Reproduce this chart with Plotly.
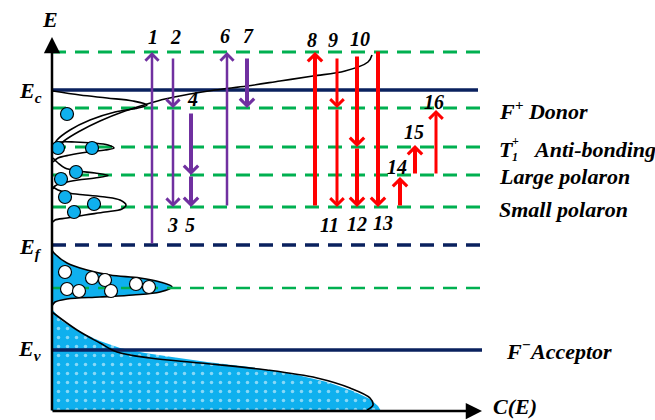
import plotly.graph_objects as go

# ---------------- data (diagram units: x to the right, y = energy drawn downward) ----------------
axis_origin = (52, 411)
e_axis_top = 37
c_axis_end = 482

level_y    = [52, 90, 108, 147, 175, 207, 245, 288, 350]
level_kind = ["green", "navy", "green", "green", "green", "green", "navydash", "green2", "navy"]
level_end  = [482, 478, 482, 482, 482, 482, 485, 485, 482]

# transitions
arrow_x     = [152, 173, 173, 191, 191, 227, 247, 315, 337, 337, 357, 357, 378, 400, 415, 436]
arrow_from  = [245, 57, 108, 112, 175, 207, 57, 207, 57, 108, 55, 147, 50, 207, 175, 175]
arrow_to    = [52, 108, 207, 175, 207, 52, 108, 52, 108, 207, 147, 207, 207, 177, 145, 110]
arrow_group = ["p"] * 7 + ["r"] * 9
arrow_w     = [2.5, 2.5, 2.5, 4, 4, 2.5, 4, 4, 3, 3, 4, 4, 4, 4, 4, 3]

num_text = ["1", "2", "3", "4", "5", "6", "7", "8", "9", "10", "11", "12", "13", "14", "15", "16"]
num_x    = [153, 175, 172, 192, 190, 225, 248, 312, 333, 360, 329, 357, 383, 397, 414, 434]
num_y    = [37, 37, 225, 99, 225, 36, 36, 40, 40, 39, 225, 224, 223, 167, 132, 102]

# density of states curves
donor_x = [53, 80, 107, 133, 147, 138, 115, 90, 70, 57, 53]
donor_y = [91, 95, 98, 101, 105, 108, 112, 120, 130, 140, 147]
tail_x = [372, 368, 345, 313, 280, 247, 215, 190, 165, 147, 125, 100, 80, 64, 55]
tail_y = [55, 62, 71, 76, 81, 86, 90, 94, 99, 104, 111, 121, 131, 141, 150]
t1_x = [53, 60, 75, 93, 108, 114, 105, 88, 70, 58, 53]
t1_y = [144, 142, 142, 143, 145, 148, 150, 152, 155, 158, 162]
large_x = [53, 58, 65, 78, 95, 108, 95, 78, 63, 55, 53]
large_y = [158, 163, 168, 171, 173, 175.5, 178, 180, 183, 186, 189]
small_x = [53, 58, 68, 85, 105, 120, 126, 122, 105, 85, 67, 55, 53]
small_y = [187, 190, 193, 195, 197, 200, 205, 209, 212, 215, 218, 220, 222]

acc_x = [52, 54, 67, 87, 110, 140, 160, 172, 160, 133, 100, 67, 55, 52]
acc_y = [250, 253, 263, 270, 275, 278, 282, 287, 292, 295, 297, 299, 302, 306]

vb_fill_x = [52, 62, 80, 100, 120, 145, 172, 207, 250, 293, 327, 353, 370, 378, 381, 52]
vb_fill_y = [309, 321, 332, 341, 348, 353, 357, 362, 367, 374, 382, 391, 399, 406, 411, 411]
vb_line_x = [52, 77, 100, 117, 150, 200, 267, 317, 350, 370, 373, 367]
vb_line_y = [312, 330, 343, 352, 358, 363, 370, 378, 388, 398, 405, 410]

electron_x = [67, 58, 92, 76, 61, 65, 94, 74]
electron_y = [114, 148, 148, 172, 179, 197, 204, 212]
hole_x = [65, 92, 105, 136, 149, 67, 79, 111]
hole_y = [272, 278, 280, 284, 287, 289, 291, 291]

# ---------------- styles ----------------
BLUE = "#0FB0EE"
PURPLE = "#7030A0"
RED = "#FF0000"
GREEN = "#00B050"
NAVY = "#0A215E"
FONT = "Liberation Serif, Times New Roman, Times, serif"
level_style = {
    "green": dict(color=GREEN, width=3, dash="14px,9px"),
    "green2": dict(color=GREEN, width=2.6, dash="14px,9px"),
    "navy": dict(color=NAVY, width=3.5),
    "navydash": dict(color=NAVY, width=3.5, dash="14px,9px"),
}
arrow_color = {"p": PURPLE, "r": RED}

fig = go.Figure()

# valence band (dotted fill)
fig.add_trace(go.Scatter(
    x=vb_fill_x, y=vb_fill_y, mode="lines", fill="toself",
    line=dict(width=0, color=BLUE), fillcolor=BLUE,
    fillpattern=dict(shape=".", fgcolor="white", bgcolor=BLUE, size=9, solidity=0.12),
    hoverinfo="skip"))
# acceptor band
fig.add_trace(go.Scatter(
    x=acc_x, y=acc_y, mode="lines", fill="toself", fillcolor=BLUE,
    line=dict(color="black", width=1.6, shape="spline"), hoverinfo="skip"))

# energy levels
for y, kind, xe in zip(level_y, level_kind, level_end):
    fig.add_trace(go.Scatter(x=[axis_origin[0], xe], y=[y, y], mode="lines",
                             line=level_style[kind], hoverinfo="skip"))

# DOS curves
for cx, cy in [(donor_x, donor_y), (tail_x, tail_y), (t1_x, t1_y),
               (large_x, large_y), (small_x, small_y), (vb_line_x, vb_line_y)]:
    fig.add_trace(go.Scatter(x=cx, y=cy, mode="lines",
                             line=dict(color="black", width=1.6, shape="spline"),
                             hoverinfo="skip"))

# carriers
fig.add_trace(go.Scatter(x=electron_x, y=electron_y, mode="markers",
                         marker=dict(size=13, color=BLUE, line=dict(color="black", width=1.2)),
                         hoverinfo="skip"))
fig.add_trace(go.Scatter(x=hole_x, y=hole_y, mode="markers",
                         marker=dict(size=13, color="white", line=dict(color="black", width=1.2)),
                         hoverinfo="skip"))

ann = []
# axes with arrows
ann.append(dict(x=axis_origin[0], y=e_axis_top, ax=axis_origin[0], ay=axis_origin[1] + 1,
                xref="x", yref="y", axref="x", ayref="y", showarrow=True, text="",
                arrowhead=2, arrowsize=1.3, arrowwidth=2.5, arrowcolor="black"))
ann.append(dict(x=c_axis_end, y=axis_origin[1], ax=axis_origin[0] - 1, ay=axis_origin[1],
                xref="x", yref="y", axref="x", ayref="y", showarrow=True, text="",
                arrowhead=2, arrowsize=1.3, arrowwidth=2.5, arrowcolor="black"))

# transition arrows
for x, y0, y1, g, w in zip(arrow_x, arrow_from, arrow_to, arrow_group, arrow_w):
    ann.append(dict(x=x, y=y1, ax=x, ay=y0, xref="x", yref="y", axref="x", ayref="y",
                    showarrow=True, text="", arrowhead=4, arrowsize=13 / (6 * w) + 0.15,
                    arrowwidth=w, arrowcolor=arrow_color[g]))

# numbers
for t, x, y in zip(num_text, num_x, num_y):
    ann.append(dict(x=x, y=y, text=f"<b><i>{t}</i></b>", showarrow=False,
                    font=dict(family=FONT, size=20, color="black"),
                    xanchor="center", yanchor="middle"))

def label(x, y, txt, size=22, anchor="left"):
    ann.append(dict(x=x, y=y, text=txt, showarrow=False,
                    font=dict(family=FONT, size=size, color="black"),
                    xanchor=anchor, yanchor="middle"))

label(50, 19, "<b><i>E</i></b>", 22, "center")
label(30, 92, "<b><i>E<sub>c</sub></i></b>", 22, "center")
label(30, 248, "<b><i>E<sub>f</sub></i></b>", 22, "center")
label(29, 350, "<b><i>E<sub>v</sub></i></b>", 22, "center")
label(497, 110, "<b><i>F<sup>+</sup> Donor</i></b>")
label(497, 149, "<b><i>T</i></b>")
label(510, 141, "<b>+</b>", 12)
label(510, 157, "<b><i>1</i></b>", 12)
label(531, 149, "<b><i>Anti-bonding</i></b>")
label(497, 176, "<b><i>Large polaron</i></b>")
label(497, 209, "<b><i>Small polaron</i></b>")
label(504, 350, "<b><i>F<sup>−</sup>Acceptor</i></b>")
label(491, 406, "<b><i>C(E)</i></b>")

fig.update_layout(
    width=655, height=420, margin=dict(l=0, r=0, t=0, b=0),
    paper_bgcolor="white", plot_bgcolor="white", showlegend=False,
    font=dict(family=FONT),
    xaxis=dict(range=[0, 655], visible=False, fixedrange=True),
    yaxis=dict(range=[420, 0], visible=False, fixedrange=True),
    annotations=ann,
)

fig.write_html("out.html", config={"displayModeBar": False},
               post_script="document.body.style.margin='0';document.body.style.overflow='hidden';")
